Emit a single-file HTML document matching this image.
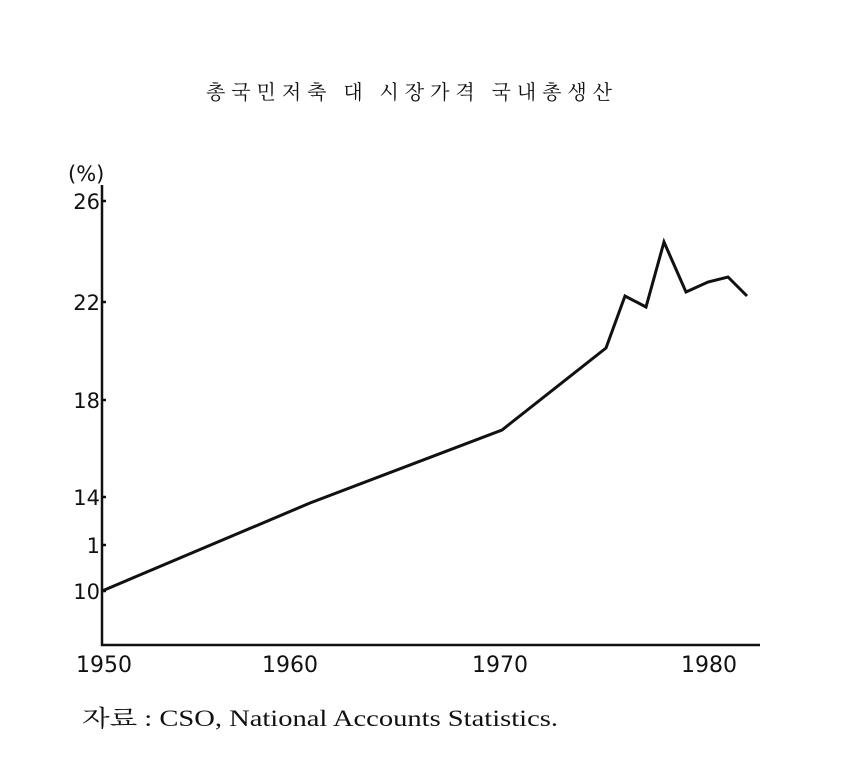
<!DOCTYPE html>
<html><head><meta charset="utf-8"><style>
html,body{margin:0;padding:0;background:#fff;}
</style></head><body>
<svg width="843" height="754" viewBox="0 0 843 754" xmlns="http://www.w3.org/2000/svg">
<rect width="843" height="754" fill="#fff"/>
<text x="206" y="99" textLength="406" lengthAdjust="spacing" font-family="'Liberation Serif','Noto Serif CJK SC','Noto Sans CJK KR',serif" font-size="20" fill="#111">총국민저축 대 시장가격 국내총생산</text>
<g font-family="'DejaVu Sans','Liberation Sans',sans-serif" font-size="21" fill="#111">
<text x="68" y="181">(%)</text>
<text x="100" y="209" text-anchor="end">26</text>
<text x="100" y="310" text-anchor="end">22</text>
<text x="100" y="408" text-anchor="end">18</text>
<text x="100" y="505" text-anchor="end">14</text>
<text x="100" y="553" text-anchor="end">1</text>
<text x="100" y="599" text-anchor="end">10</text>
<text x="104" y="672" text-anchor="middle" font-size="22">1950</text>
<text x="290" y="672" text-anchor="middle" font-size="22">1960</text>
<text x="500" y="672" text-anchor="middle" font-size="22">1970</text>
<text x="709" y="672" text-anchor="middle" font-size="22">1980</text>
</g>
<g stroke="#111" stroke-width="2.5" fill="none">
<path d="M102 185 V645 H760"/>
<path d="M102 201 h4 M102 302 h4 M102 400 h4 M102 497 h4 M102 545 h4 M102 591 h4"/>
<polyline stroke-width="3" stroke-linejoin="miter" points="102,591 310,503 502,430 606,348 625,296 646,307 664,242 686,292 708,282 728,277 747,296"/>
</g>
<text x="82" y="726" textLength="476" lengthAdjust="spacingAndGlyphs" font-family="'Liberation Serif','Noto Serif CJK SC',serif" font-size="23" fill="#111">자료 : CSO, National Accounts Statistics.</text>
</svg>
</body></html>
